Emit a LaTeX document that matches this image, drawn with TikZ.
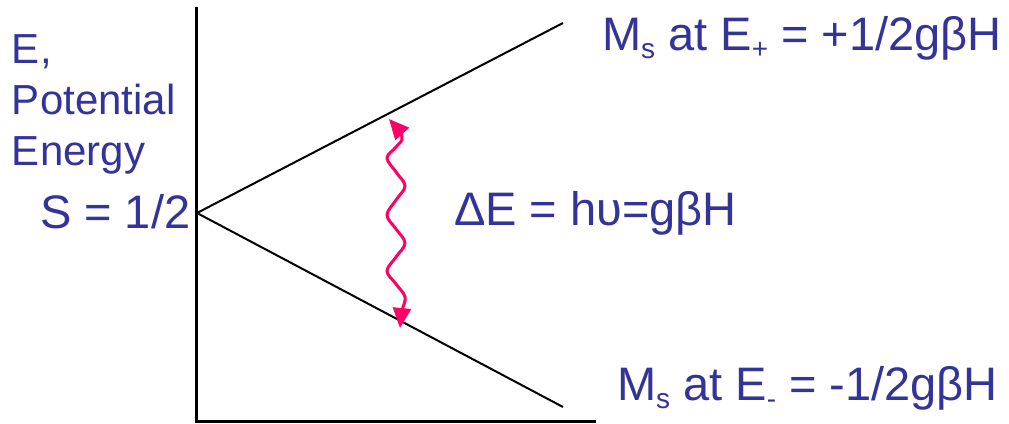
\documentclass[tikz,border=0pt]{standalone}
\usepackage{fontspec}
\setmainfont{Liberation Sans}
\usetikzlibrary{arrows.meta}
\definecolor{txtblue}{RGB}{51,51,153}
\definecolor{wavepink}{RGB}{255,0,102}
\newcommand{\lowsub}[1]{\raisebox{-8pt}{\fontsize{28}{28}\selectfont #1}}
\tikzset{
  lbl/.style={inner sep=0pt, outer sep=0pt, text=txtblue, anchor=base west},
  big/.style={font=\fontsize{47}{51}\selectfont},
  small/.style={font=\fontsize{42}{51}\selectfont},
  axisline/.style={line width=3pt, black},
  level/.style={line width=2pt, black},
  wave/.style={line width=3pt, wavepink, {Triangle[length=20pt,width=18pt]}-{Triangle[length=20pt,width=18pt]}}
}
\begin{document}
\begin{tikzpicture}[x=1pt,y=-1pt]
\useasboundingbox (0,0) rectangle (1009,423);
% axes
\coordinate (atop) at (196,7);
\coordinate (acorner) at (196,421);
\coordinate (aend) at (596,421);
\draw[axisline] (atop) -- (acorner) -- (aend);
% levels
\coordinate (O) at (197,213);
\coordinate (U) at (563,23);
\coordinate (L) at (563,407);
\draw[level] (O) -- (U);
\draw[level] (O) -- (L);
% wavy transition
\coordinate (wt) at (389,119);
\coordinate (wb) at (400,328);
\draw[wave] plot[smooth, tension=0.6] coordinates {(wt) (402,137) (396,147) (387,158) (396,172) (405,186) (396,200) (387,215) (396,229) (405,243) (396,257) (387,271) (396,284) (405,297) (402,311) (wb)};
% labels
\node[lbl, small] (e1) at (12,63) {E,};
\node[lbl, small] (e2) at (12,114) {Potential};
\node[lbl, small] (e3) at (12,165) {Energy};
\node[lbl, big] (s) at (40,228) {S = 1/2};
\node[lbl, big] (up) at (602,50) {M\lowsub{s} at E\lowsub{+} = +1/2gβH};
\node[lbl, big] (dn) at (617,400) {M\lowsub{s} at E\lowsub{-} = -1/2gβH};
\node[lbl, big] (de) at (454,225) {ΔE = hυ=gβH};
\end{tikzpicture}
\end{document}
